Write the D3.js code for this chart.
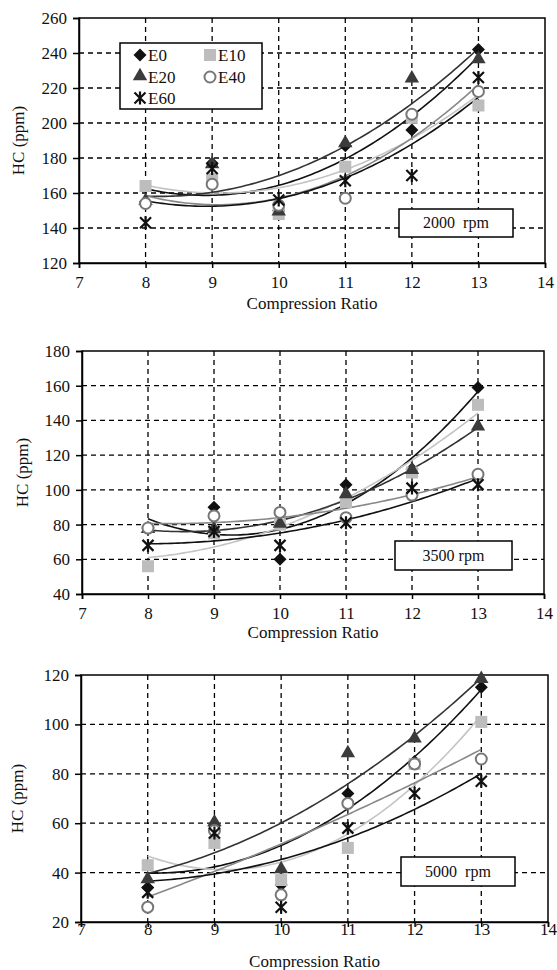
<!DOCTYPE html>
<html>
<head>
<meta charset="utf-8">
<script src="https://cdn.jsdelivr.net/npm/d3@7"></script>
<style>
  body { margin: 0; background: #fff; }
</style>
</head>
<body>
<script>
// compression ratios and fuels
var cr = [8, 9, 10, 11, 12, 13]
var fuels = ['E0', 'E10', 'E20', 'E40', 'E60']
var xTicks = [7, 8, 9, 10, 11, 12, 13, 14]

// HC (ppm), one row per fuel, same order as fuels
var hc2000 = [
  [155, 177, 150, 187, 196, 242],
  [164, 168, 148, 175, 203, 210],
  [155, 176, 149, 188, 225, 236],
  [154, 165, 153, 157, 205, 218],
  [143, 174, 156, 167, 170, 226]
]
var hc3500 = [
  [78, 90, 60, 103, 112, 159],
  [56, 75, 80, 93, 110, 149],
  [77, 77, 80, 97, 111, 136],
  [78, 85, 87, 84, 97, 109],
  [68, 76, 68, 81, 101, 103]
]
var hc5000 = [
  [34, 59, 35, 72, 85, 115],
  [43, 52, 37, 50, 84, 101],
  [37, 60, 41, 88, 94, 118],
  [26, 57, 31, 68, 84, 86],
  [32, 56, 26, 58, 72, 77]
]
var yTicks2000 = [120, 140, 160, 180, 200, 220, 240, 260]
var yTicks3500 = [40, 60, 80, 100, 120, 140, 160, 180]
var yTicks5000 = [20, 40, 60, 80, 100, 120]
var rpmLabels = ['2000\u00a0\u00a0rpm', '3500 rpm', '5000\u00a0\u00a0rpm']

var markColor = { E0: '#111', E10: '#bdbdbd', E20: '#3b3b3b', E40: '#777', E60: '#111' }
var lineColor = { E0: '#111', E10: '#c4c4c4', E20: '#333', E40: '#888', E60: '#111' }
var serif = "'Liberation Serif', 'DejaVu Serif', 'Times New Roman', serif"

var svg = d3.select(document.body).append('svg')
  .attr('width', 557).attr('height', 970)

var panels = [
  { data: hc2000, ticks: yTicks2000, x0: 79, x1: 545, yt: 18, yb: 263, tickBase: 25, titleY: 309, ylab: 18,
    rpm: rpmLabels[0], box: [399, 209, 114, 28], legend: true },
  { data: hc3500, ticks: yTicks3500, x0: 82, x1: 544, yt: 351, yb: 594, tickBase: 25, titleY: 638, ylab: 22,
    rpm: rpmLabels[1], box: [395, 541, 117, 29], legend: false },
  { data: hc5000, ticks: yTicks5000, x0: 81, x1: 548, yt: 675, yb: 922, tickBase: 13, titleY: 967, ylab: 17,
    rpm: rpmLabels[2], box: [401, 857, 114, 29], legend: false }
]

// second order least squares fit (like the excel trendline)
function quadFit(xs, ys) {
  var n = xs.length, s1 = 0, s2 = 0, s3 = 0, s4 = 0, t0 = 0, t1 = 0, t2 = 0
  for (var i = 0; i < n; i++) {
    var x = xs[i], y = ys[i]
    s1 += x; s2 += x * x; s3 += x * x * x; s4 += x * x * x * x
    t0 += y; t1 += x * y; t2 += x * x * y
  }
  var m = [[n, s1, s2], [s1, s2, s3], [s2, s3, s4]], r = [t0, t1, t2]
  function det(a) {
    return a[0][0] * (a[1][1] * a[2][2] - a[1][2] * a[2][1]) -
      a[0][1] * (a[1][0] * a[2][2] - a[1][2] * a[2][0]) +
      a[0][2] * (a[1][0] * a[2][1] - a[1][1] * a[2][0])
  }
  var d = det(m), c = []
  for (var k = 0; k < 3; k++) {
    var mk = m.map(function(row, j) { return row.map(function(v, l) { return l === k ? r[j] : v }) })
    c.push(det(mk) / d)
  }
  return function(x) { return c[0] + c[1] * x + c[2] * x * x }
}

function drawMarker(g, fuel, px, py) {
  var col = markColor[fuel]
  if (fuel === 'E0') {
    var h = 6.5
    g.append('path')
      .attr('d', 'M' + px + ',' + (py - h) + 'L' + (px + h) + ',' + py + 'L' + px + ',' + (py + h) + 'L' + (px - h) + ',' + py + 'Z')
      .attr('fill', col)
  } else if (fuel === 'E10') {
    g.append('rect').attr('x', px - 6).attr('y', py - 6).attr('width', 12).attr('height', 12).attr('fill', col)
  } else if (fuel === 'E20') {
    g.append('path').attr('d', d3.symbol(d3.symbolTriangle, 90)()).attr('transform', 'translate(' + px + ',' + (py - 1) + ')').attr('fill', col)
  } else if (fuel === 'E40') {
    g.append('circle').attr('cx', px).attr('cy', py).attr('r', 5.5).attr('fill', '#fff').attr('stroke', col).attr('stroke-width', 2)
  } else {
    var s = 5.5
    g.append('path')
      .attr('d', 'M' + (px - s) + ',' + (py - s) + 'L' + (px + s) + ',' + (py + s) +
        'M' + (px + s) + ',' + (py - s) + 'L' + (px - s) + ',' + (py + s) +
        'M' + px + ',' + (py - s - 1) + 'L' + px + ',' + (py + s + 1))
      .attr('stroke', col).attr('stroke-width', 2.2).attr('fill', 'none')
  }
}

panels.forEach(function(p) {
  var g = svg.append('g')
  var x = d3.scaleLinear().domain([7, 14]).range([p.x0, p.x1])
  var y = d3.scaleLinear().domain([p.ticks[0], p.ticks[p.ticks.length - 1]]).range([p.yb, p.yt])

  // dashed grid
  g.selectAll('.vg').data(xTicks.slice(1, -1)).enter().append('line')
    .attr('x1', function(d) { return x(d) }).attr('x2', function(d) { return x(d) })
    .attr('y1', p.yt).attr('y2', p.yb)
    .attr('stroke', '#000').attr('stroke-width', 1.3).attr('stroke-dasharray', '5,4')
  g.selectAll('.hg').data(p.ticks.slice(1, -1)).enter().append('line')
    .attr('x1', p.x0).attr('x2', p.x1)
    .attr('y1', function(d) { return y(d) }).attr('y2', function(d) { return y(d) })
    .attr('stroke', '#000').attr('stroke-width', 1.3).attr('stroke-dasharray', '5,4')

  // frame
  g.append('rect').attr('x', p.x0).attr('y', p.yt).attr('width', p.x1 - p.x0).attr('height', p.yb - p.yt)
    .attr('fill', 'none').attr('stroke', '#000').attr('stroke-width', 1.5)

  // axes
  var ya = g.append('g').attr('transform', 'translate(' + p.x0 + ',0)')
    .call(d3.axisLeft(y).tickValues(p.ticks).tickSize(6).tickPadding(6))
  var xa = g.append('g').attr('transform', 'translate(0,' + p.yb + ')')
    .call(d3.axisBottom(x).tickValues(xTicks).tickSize(5).tickFormat(d3.format('d')))
  xa.selectAll('text').attr('y', p.tickBase).attr('dy', 0)
  ;[ya, xa].forEach(function(a) {
    a.attr('font-family', serif).attr('font-size', 17)
    a.select('.domain').attr('stroke-width', 1.5)
    a.selectAll('line').attr('stroke-width', 1.5)
    a.selectAll('text').attr('fill', '#111')
  })

  // trend lines
  var xs = d3.range(8, 13.001, 0.05)
  p.data.forEach(function(vals, i) {
    var f = quadFit(cr, vals)
    g.append('path')
      .attr('d', d3.line().x(function(d) { return x(d) }).y(function(d) { return y(f(d)) })(xs))
      .attr('fill', 'none').attr('stroke', lineColor[fuels[i]]).attr('stroke-width', 1.6)
  })

  // points
  p.data.forEach(function(vals, i) {
    vals.forEach(function(v, j) { drawMarker(g, fuels[i], x(cr[j]), y(v)) })
  })

  // labels
  g.append('text').attr('transform', 'translate(' + p.ylab + ',' + ((p.yt + p.yb) / 2) + ') rotate(-90)')
    .attr('text-anchor', 'middle').attr('dy', '0.35em').attr('font-size', 17).text('HC (ppm)')
  g.append('text').attr('x', (p.x0 + p.x1) / 2).attr('y', p.titleY)
    .attr('text-anchor', 'middle').attr('font-size', 17).text('Compression Ratio')

  // rpm box
  g.append('rect').attr('x', p.box[0]).attr('y', p.box[1]).attr('width', p.box[2]).attr('height', p.box[3])
    .attr('fill', '#fff').attr('stroke', '#000').attr('stroke-width', 1.5)
  g.append('text').attr('x', p.box[0] + p.box[2] / 2).attr('y', p.box[1] + p.box[3] / 2)
    .attr('dy', '0.32em').attr('text-anchor', 'middle').attr('font-size', 16).text(p.rpm)

  if (p.legend) {
    var lg = g.append('g')
    lg.append('rect').attr('x', 120).attr('y', 43).attr('width', 142).attr('height', 66)
      .attr('fill', '#fff').attr('stroke', '#000').attr('stroke-width', 1.5)
    var spots = [[140, 55], [210, 55], [140, 77], [210, 77], [140, 98]]
    fuels.forEach(function(fu, i) {
      drawMarker(lg, fu, spots[i][0], spots[i][1])
      lg.append('text').attr('x', spots[i][0] + 8).attr('y', spots[i][1]).attr('dy', '0.35em')
        .attr('font-size', 17).text(fu)
    })
  }
})

svg.selectAll('text').attr('font-family', serif).style('font-family', serif).attr('fill', '#111')
</script>
</body>
</html>
